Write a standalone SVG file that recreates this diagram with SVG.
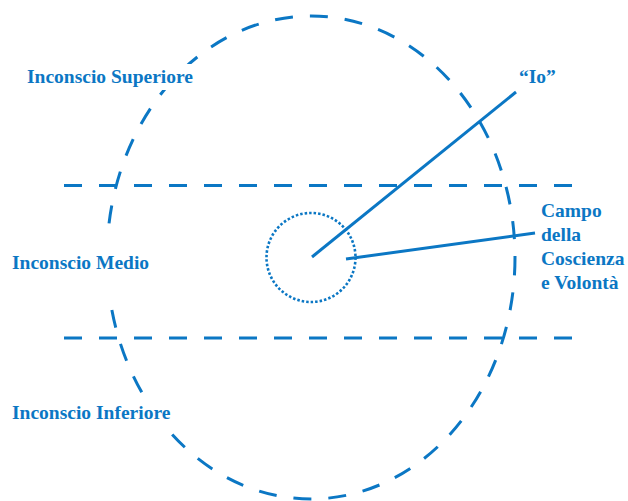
<svg xmlns="http://www.w3.org/2000/svg" width="628" height="501" viewBox="0 0 628 501">
<style>
.ln{fill:none;stroke:#0b77c4;stroke-width:3}
.dash{stroke-dasharray:18 17}
.dot{fill:none;stroke:#0b77c4;stroke-width:2.6;stroke-dasharray:2.5 2.01}
.t{font-family:"Liberation Serif","Times New Roman",serif;font-weight:bold;font-size:19.5px;fill:#0b77c4}
.bg{fill:#ffffff}
</style>
<g id="levels">
<ellipse id="psyche" class="ln dash" cx="311" cy="257.5" rx="204" ry="241.5"/>
<line id="line-upper" class="ln dash" x1="64" y1="185.5" x2="573" y2="185.5"/>
<line id="line-lower" class="ln dash" x1="64" y1="338" x2="573" y2="338"/>
</g>
<g id="field">
<circle id="io-circle" class="dot" cx="311" cy="257.5" r="44.5"/>
</g>
<g id="connectors">
<line class="ln" x1="312" y1="257" x2="516" y2="92"/>
<line class="ln" x1="346" y1="259" x2="535" y2="233"/>
</g>
<g id="label-superiore">
<rect class="bg" x="24" y="64" width="176" height="26"/>
<text class="t" x="27" y="83">Inconscio Superiore</text>
</g>
<g id="label-medio">
<rect class="bg" x="8" y="228" width="146" height="74"/>
<text class="t" x="12" y="269">Inconscio Medio</text>
</g>
<g id="label-inferiore">
<rect class="bg" x="8" y="400" width="168" height="28"/>
<text class="t" x="12" y="419">Inconscio Inferiore</text>
</g>
<g id="label-io">
<text class="t" x="519" y="83">“Io”</text>
</g>
<g id="label-campo">
<text class="t" x="541" y="217">Campo</text>
<text class="t" x="541" y="241">della</text>
<text class="t" x="541" y="265">Coscienza</text>
<text class="t" x="541" y="289">e Volontà</text>
</g>
</svg>
